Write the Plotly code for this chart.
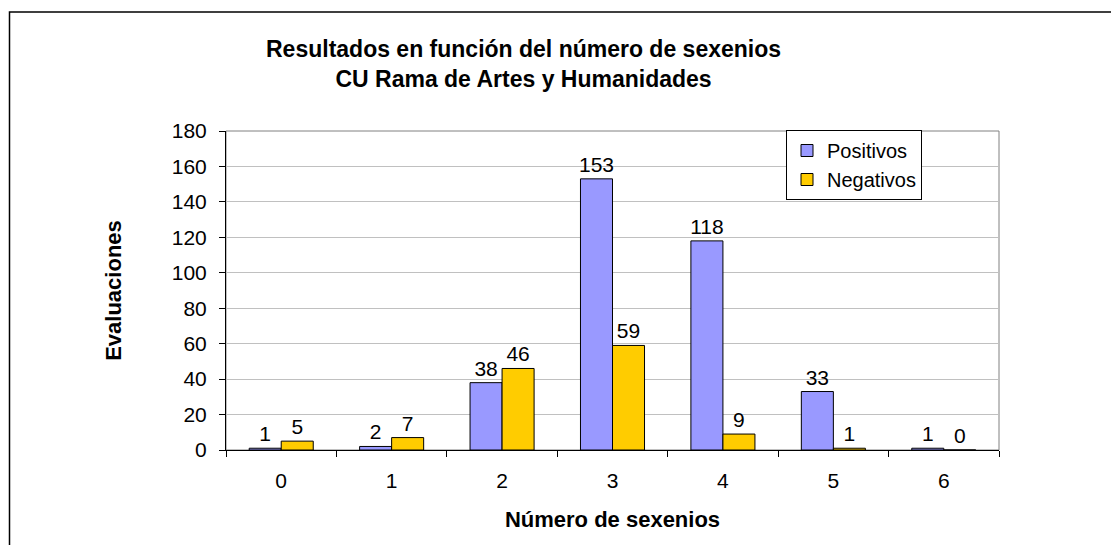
import plotly.graph_objects as go

categorias = ['0', '1', '2', '3', '4', '5', '6']
positivos = [1, 2, 38, 153, 118, 33, 1]
negativos = [5, 7, 46, 59, 9, 1, 0]

FONT = 'Liberation Sans, Arial, sans-serif'

fig = go.Figure()
fig.add_trace(go.Bar(
    x=categorias, y=positivos, name='Positivos',
    marker=dict(color='#9999ff', line=dict(color='#000000', width=1)),
    text=positivos, textposition='outside', cliponaxis=False, constraintext='none',
    textfont=dict(size=21, color='#000000', family=FONT)
))
fig.add_trace(go.Bar(
    x=categorias, y=negativos, name='Negativos',
    marker=dict(color='#ffcc00', line=dict(color='#000000', width=1)),
    text=negativos, textposition='outside', cliponaxis=False, constraintext='none',
    textfont=dict(size=21, color='#000000', family=FONT)
))

# plot area on screen: x 226..999, y 131..450 (page body adds 8px offset)
OFF = 8
L, T = 226, 131
W, H = 773, 319


def px(x):
    return (x - L) / W


def py(y):
    return 1 - (y - T) / H


fig.update_layout(
    width=1119, height=545,
    margin=dict(l=L - OFF, r=1119 - (L - OFF) - W, t=T - OFF, b=545 - (T - OFF) - H, pad=0),
    paper_bgcolor='#ffffff', plot_bgcolor='#ffffff',
    font=dict(family=FONT, color='#000000', size=21),
    barmode='group', bargap=0.42, bargroupgap=0,
    showlegend=True,
    legend=dict(
        x=px(786), y=py(130), xanchor='left', yanchor='top',
        bgcolor='#ffffff', bordercolor='#000000', borderwidth=1,
        font=dict(size=20, family=FONT), tracegroupgap=0,
        itemwidth=30
    ),
    xaxis=dict(
        type='category', showgrid=False, zeroline=False,
        showline=True, linecolor='#000000', linewidth=1,
        ticks='outside', tickson='boundaries', ticklen=6, tickcolor='#000000',
        tickfont=dict(size=21), ticklabelstandoff=12,
        title=dict(text='<b>Número de sexenios</b>', font=dict(size=22), standoff=20)
    ),
    yaxis=dict(
        range=[0, 180], dtick=20, showgrid=True, gridcolor='#c0c0c0',
        zeroline=False, showline=True, linecolor='#000000', linewidth=1,
        ticks='outside', ticklen=6, tickcolor='#000000',
        tickfont=dict(size=21), ticklabelstandoff=8,
        title=dict(text='<b>Evaluaciones</b>', font=dict(size=22), standoff=44)
    ),
    shapes=[
        # plot area border (gray, top and right)
        dict(type='rect', xref='paper', yref='paper', x0=0, x1=1, y0=0, y1=1,
             line=dict(color='#808080', width=1), layer='below'),
        # outer chart frame, cut off at right and bottom
        dict(type='rect', xref='paper', yref='paper',
             x0=px(9.5), x1=px(1140), y0=py(570), y1=py(12),
             line=dict(color='#000000', width=1.5)),
    ],
    annotations=[
        dict(text='<b>Resultados en función del número de sexenios<br>CU Rama de Artes y Humanidades</b>',
             xref='paper', yref='paper', x=px(523), y=py(64),
             xanchor='center', yanchor='middle', showarrow=False,
             font=dict(size=23, family=FONT))
    ]
)

fig.write_html("out.html")
